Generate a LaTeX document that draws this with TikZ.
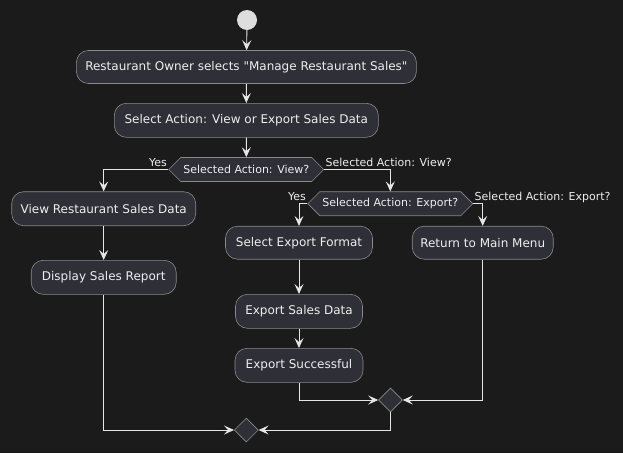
\documentclass[tikz,border=0pt]{standalone}
\usepackage{fontspec}
\setmainfont{DejaVu Sans}
\newfontfamily\dvs{DejaVu Sans}
\usetikzlibrary{arrows.meta,shapes.geometric,shapes.symbols}
\definecolor{bg}{HTML}{1B1B1B}
\definecolor{nodefill}{HTML}{2F2F37}
\definecolor{nodeborder}{HTML}{8A8A8A}
\definecolor{txt}{HTML}{EEEEEE}
\definecolor{lin}{HTML}{E6E6E6}
\definecolor{startc}{HTML}{DDDDDD}
\begin{document}
\begin{tikzpicture}[x=1pt,y=-1pt,
  act/.style={rectangle, rounded corners=12pt, draw=nodeborder, fill=nodefill, text=txt,
    font=\dvs\fontsize{12}{14}\selectfont, line width=0.6pt, inner sep=0pt, minimum height=34pt},
  dec/.style={shape=signal, signal to=west and east, signal pointer angle=90,
    draw=nodeborder, fill=nodefill, text=txt, font=\dvs\fontsize{11}{13}\selectfont,
    line width=0.6pt, inner sep=0pt, minimum height=24pt},
  merge/.style={diamond, aspect=1, draw=nodeborder, fill=nodefill, line width=0.6pt,
    inner sep=0pt, minimum width=24pt, minimum height=24pt},
  startnode/.style={circle, fill=startc, draw=none, minimum size=20pt, inner sep=0pt},
  arr/.style={draw=lin, line width=0.9pt, -{Stealth[length=10pt,width=9pt,inset=4pt]}},
  lbl/.style={text=txt, font=\dvs\fontsize{11}{13}\selectfont, inner sep=1pt}
]
\fill[bg] (0,0) rectangle (623,453);
\useasboundingbox (0,0) rectangle (623,453);

\node[startnode] (start) at (247,20) {};
\node[act, minimum width=340pt, minimum height=33pt] (n1) at (246.4,67) {Restaurant Owner selects "Manage Restaurant Sales"};
\node[act, minimum width=264pt] (n2) at (246.3,120.3) {Select Action: View or Export Sales Data};
\node[dec, minimum width=155pt] (d1) at (246.3,169.5) {Selected Action: View?};
\node[act, minimum width=184pt] (view) at (103.7,208.7) {View Restaurant Sales Data};
\node[act, minimum width=145pt] (disp) at (103.7,277.3) {Display Sales Report};
\node[dec, minimum width=165pt] (d2) at (390.3,203.7) {Selected Action: Export?};
\node[act, minimum width=147pt, minimum height=33pt] (sef) at (299,242.7) {Select Export Format};
\node[act, minimum width=141pt, minimum height=33pt] (ret) at (482.7,242.7) {Return to Main Menu};
\node[act, minimum width=127pt] (esd) at (299,311.3) {Export Sales Data};
\node[act, minimum width=128pt] (es) at (299,365.3) {Export Successful};
\node[merge] (m1) at (390.5,400) {};
\node[merge] (m2) at (246.3,430) {};

\draw[arr] (start) -- (n1);
\draw[arr] (n1) -- (n2);
\draw[arr] (n2) -- (d1);
\draw[arr] (d1.west) -| (view.north) node[pos=0, lbl, anchor=base east, yshift=3pt] {Yes};
\draw[arr] (d1.east) -| (d2.north) node[pos=0, lbl, anchor=base west, yshift=3pt] {Selected Action: View?};
\draw[arr] (view) -- (disp);
\draw[arr] (d2.west) -| (sef.north) node[pos=0, lbl, anchor=base east, yshift=3pt] {Yes};
\draw[arr] (d2.east) -| (ret.north) node[pos=0, lbl, anchor=base west, yshift=3pt] {Selected Action: Export?};
\draw[arr] (sef) -- (esd);
\draw[arr] (esd) -- (es);
\draw[arr] (es.south) |- (m1.west);
\draw[arr] (ret.south) |- (m1.east);
\draw[arr] (disp.south) |- (m2.west);
\draw[arr] (m1.south) |- (m2.east);
\end{tikzpicture}
\end{document}
